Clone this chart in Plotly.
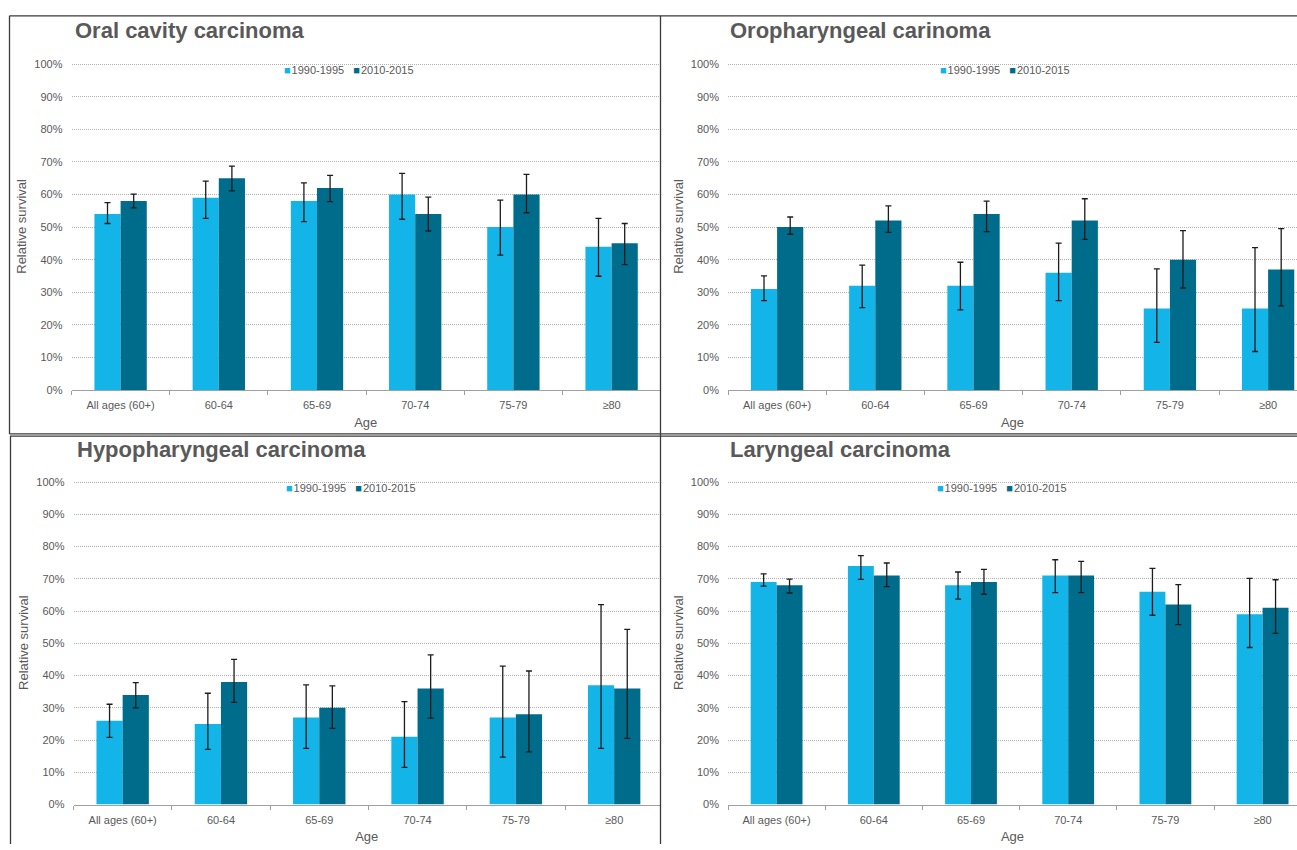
import plotly.graph_objects as go

# ---- data -------------------------------------------------------------
age_groups = ["All ages (60+)", "60-64", "65-69", "70-74", "75-79", "≥80"]
periods = ["1990-1995", "2010-2015"]

# Oral cavity carcinoma: relative survival (%) with 95% CI bounds
oral_1990 = [54, 59, 58, 60, 50, 44]
oral_1990_lo = [51.1, 52.7, 51.7, 52.4, 41.4, 34.9]
oral_1990_hi = [57.5, 64.1, 63.6, 66.5, 58.3, 52.7]
oral_2010 = [58, 65, 62, 54, 60, 45]
oral_2010_lo = [55.9, 61.1, 57.8, 48.8, 54.4, 38.5]
oral_2010_hi = [60.1, 68.7, 65.9, 59.2, 66.2, 51.1]

# Oropharyngeal carcinoma
oro_1990 = [31, 32, 32, 36, 25, 25]
oro_1990_lo = [27.4, 25.3, 24.6, 27.4, 14.6, 11.8]
oro_1990_hi = [35.0, 38.3, 39.2, 45.1, 37.2, 43.7]
oro_2010 = [50, 52, 54, 52, 40, 37]
oro_2010_lo = [47.8, 48.4, 48.6, 46.2, 31.3, 25.8]
oro_2010_hi = [53.1, 56.5, 58.0, 58.7, 48.9, 49.5]

# Hypopharyngeal carcinoma
hypo_1990 = [26, 25, 27, 21, 27, 37]
hypo_1990_lo = [20.8, 17.1, 17.4, 11.5, 14.7, 17.4]
hypo_1990_hi = [31.1, 34.5, 37.1, 31.9, 42.9, 62.0]
hypo_2010 = [34, 38, 30, 36, 28, 36]
hypo_2010_lo = [30.0, 31.7, 23.6, 26.8, 16.3, 20.5]
hypo_2010_hi = [37.8, 45.0, 36.8, 46.4, 41.4, 54.3]

# Laryngeal carcinoma
laryn_1990 = [69, 74, 68, 71, 66, 59]
laryn_1990_lo = [67.7, 69.8, 63.7, 65.7, 58.7, 48.7]
laryn_1990_hi = [71.5, 77.2, 72.1, 75.9, 73.2, 70.1]
laryn_2010 = [68, 71, 69, 71, 62, 61]
laryn_2010_lo = [65.6, 67.6, 65.2, 65.7, 55.8, 53.1]
laryn_2010_hi = [69.9, 74.9, 72.9, 75.4, 68.2, 69.7]

y_ticks = list(range(0, 101, 10))
y_tick_labels = [f"{v}%" for v in y_ticks]

# ---- styling ------------------------------------------------------------
W, H = 1297, 850
FONT = "Liberation Sans, Arial, sans-serif"
GREY = "#595959"
LIGHT = "#13B4E8"
DARK = "#006C8B"
Y_MAX = 100.4

panels = [
    dict(title="Oral cavity carcinoma",
         series=[(oral_1990, oral_1990_lo, oral_1990_hi), (oral_2010, oral_2010_lo, oral_2010_hi)],
         x_left=71.5, cat_w=98.2, x_right=660, y0=390, y100=60,
         title_xy=(73, 26), legend_xy=(349, 66)),
    dict(title="Oropharyngeal carinoma",
         series=[(oro_1990, oro_1990_lo, oro_1990_hi), (oro_2010, oro_2010_lo, oro_2010_hi)],
         x_left=728, cat_w=98.2, x_right=1297, y0=390, y100=60,
         title_xy=(728, 26), legend_xy=(1005, 66)),
    dict(title="Hypopharyngeal carcinoma",
         series=[(hypo_1990, hypo_1990_lo, hypo_1990_hi), (hypo_2010, hypo_2010_lo, hypo_2010_hi)],
         x_left=73.5, cat_w=98.3, x_right=660, y0=810, y100=483.3,
         title_xy=(75, 450.5), legend_xy=(351, 489)),
    dict(title="Laryngeal carcinoma",
         series=[(laryn_1990, laryn_1990_lo, laryn_1990_hi), (laryn_2010, laryn_2010_lo, laryn_2010_hi)],
         x_left=728, cat_w=97.2, x_right=1297, y0=810, y100=483.3,
         title_xy=(728, 450.5), legend_xy=(1002, 489)),
]

fig = go.Figure()
layout = dict(
    width=W, height=H,
    margin=dict(l=0, r=0, t=0, b=0),
    paper_bgcolor="white", plot_bgcolor="white",
    barmode="group", bargap=0.467, bargroupgap=0,
    font=dict(family=FONT, color=GREY),
    showlegend=False,
    annotations=[], shapes=[],
)

for i, p in enumerate(panels):
    n = "" if i == 0 else str(i + 1)
    xa, ya = "x" + n, "y" + n

    for (vals, lo, hi), name, color in zip(p["series"], periods, [LIGHT, DARK]):
        fig.add_trace(go.Bar(
            x=age_groups, y=vals, name=name,
            marker=dict(color=color, line=dict(width=0)),
            error_y=dict(type="data", symmetric=False,
                         array=[h - v for h, v in zip(hi, vals)],
                         arrayminus=[v - l for v, l in zip(vals, lo)],
                         color="#1c1c1c", thickness=1.3, width=3),
            xaxis=xa, yaxis=ya, offsetgroup=name,
        ))

    # axis domains from pixel positions
    px_per_unit = (p["y0"] - p["y100"]) / 100.0
    y_top_px = p["y0"] - Y_MAX * px_per_unit
    x_end = -0.5 + (p["x_right"] - p["x_left"]) / p["cat_w"]

    layout["xaxis" + n] = dict(
        domain=[p["x_left"] / W, p["x_right"] / W],
        anchor=ya, type="category", range=[-0.5, x_end],
        showline=True, linecolor="#a0a0a0", linewidth=1.2,
        ticks="outside", tickson="boundaries", ticklen=4, tickcolor="#a0a0a0",
        tickfont=dict(size=11, color=GREY, family=FONT),
        ticklabelstandoff=5,
        showgrid=False, zeroline=False,
        title=dict(text="Age", font=dict(size=13, color=GREY, family=FONT), standoff=7),
    )
    layout["yaxis" + n] = dict(
        domain=[1 - p["y0"] / H, 1 - y_top_px / H],
        anchor=xa, range=[0, Y_MAX],
        tickmode="array", tickvals=y_ticks, ticktext=y_tick_labels,
        tickfont=dict(size=11, color=GREY, family=FONT),
        ticklabelstandoff=8,
        showgrid=True, gridcolor="#b0b0b0", griddash="1px,1px", gridwidth=1,
        showline=False, zeroline=False, ticks="",
        title=dict(text="Relative survival", font=dict(size=13, color=GREY, family=FONT), standoff=4),
    )
    # series key above the bars
    gap = "\u00a0\u00a0\u00a0"
    layout["annotations"].append(dict(
        text=(f'<span style="color:{LIGHT}">■</span>\u200a{periods[0]}{gap}'
              f'<span style="color:{DARK}">■</span>\u200a{periods[1]}'),
        xref="paper", yref="paper",
        x=p["legend_xy"][0] / W, y=1 - p["legend_xy"][1] / H,
        xanchor="center", yanchor="middle", showarrow=False,
        font=dict(size=11, color=GREY, family=FONT),
    ))
    layout["annotations"].append(dict(
        text="<b>" + p["title"] + "</b>", xref="paper", yref="paper",
        x=p["title_xy"][0] / W, y=1 - p["title_xy"][1] / H,
        xanchor="left", yanchor="middle", showarrow=False,
        font=dict(size=22, color=GREY, family=FONT),
    ))

# panel frames
for x0, y0, x1, y1 in [
    (9.5, 11, 1297, 11),        # top edge
    (9.5, 11, 9.5, 434.5),      # upper-left left edge
    (10.5, 436.5, 10.5, 850),   # lower-left left edge
    (660.5, 11, 660.5, 850),    # vertical divider
    (9.5, 434.5, 1297, 434.5),  # upper row bottom
    (10.5, 436.8, 1297, 436.8), # lower row top
]:
    layout["shapes"].append(dict(
        type="line", xref="paper", yref="paper",
        x0=x0 / W, x1=x1 / W, y0=1 - y0 / H, y1=1 - y1 / H,
        line=dict(color="#3a3a3a", width=1.3),
    ))

fig.update_layout(**layout)
fig.write_html("out.html")
